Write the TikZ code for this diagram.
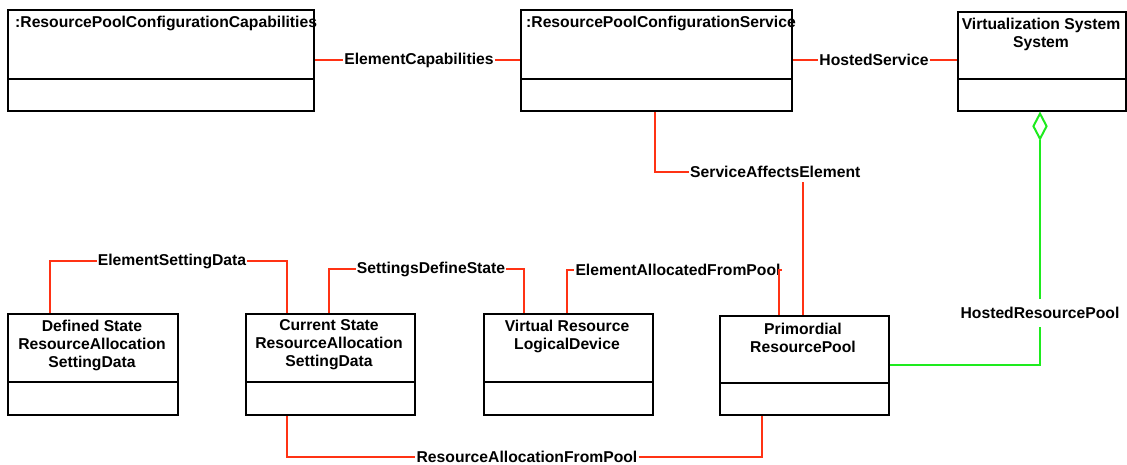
\documentclass[tikz,border=0pt]{standalone}
\usepackage{fontspec}
\setmainfont{Liberation Sans}
\usetikzlibrary{shapes.geometric}
\definecolor{assocred}{RGB}{255,50,20}
\definecolor{aggrgreen}{RGB}{30,235,30}
\begin{document}
\begin{tikzpicture}[x=1pt,y=-1pt,
  txt/.style={font=\fontsize{15.7}{18}\selectfont\bfseries, inner sep=0pt, align=center},
  cls/.style={draw=black, line width=2.2pt, fill=white, rectangle, inner sep=0pt, anchor=north west},
  divider/.style={draw=black, line width=2.2pt},
  lbl/.style={txt, inner xsep=1pt, inner ysep=4pt},
  rline/.style={draw=assocred, line width=2pt},
  gline/.style={draw=aggrgreen, line width=2pt}]
\useasboundingbox[fill=white] (0,0) rectangle (1127,464);

% class boxes
\node[cls, minimum width=306pt, minimum height=101pt] (rpcc) at (7,9) {};
\node[cls, minimum width=271pt, minimum height=101pt] (rpcs) at (520,9) {};
\node[cls, minimum width=168pt, minimum height=99pt]  (vss)  at (957,11) {};
\node[cls, minimum width=170pt, minimum height=101pt] (def)  at (7,313) {};
\node[cls, minimum width=169pt, minimum height=101pt] (cur)  at (245,313) {};
\node[cls, minimum width=169pt, minimum height=101pt] (virt) at (483,313) {};
\node[cls, minimum width=169pt, minimum height=99pt]  (prim) at (719,315) {};

% compartment dividers, measured up from the bottom edge
\foreach \b/\d in {rpcc/33, rpcs/33, vss/33, def/34, cur/34, virt/34, prim/33}
  \draw[divider] ([yshift=\d pt]\b.south west) -- ([yshift=\d pt]\b.south east);

% class names
\node[txt, anchor=west] (rpcc-t) at (15,23) {:ResourcePoolConfigurationCapabilities};
\node[txt, anchor=west] (rpcs-t) at (526,23) {:ResourcePoolConfigurationService};
\node[txt] (vss-t)  at (1041,34)  {Virtualization System\\System};
\node[txt] (def-t)  at (92,345)   {Defined State\\ResourceAllocation\\SettingData};
\node[txt] (cur-t)  at (329,345)  {Current State\\ResourceAllocation\\SettingData};
\node[txt] (virt-t) at (567,336)  {Virtual Resource\\LogicalDevice};
\node[txt] (prim-t) at (803,338)  {Primordial\\ResourcePool};

% association labels
\node[lbl] (ec)   at (419,60)  {ElementCapabilities};
\node[lbl] (hs)   at (874,60)  {HostedService};
\node[lbl, anchor=west] (sae) at (689,172) {ServiceAffectsElement};
\node[lbl] (esd)  at (172,261) {ElementSettingData};
\node[lbl] (sds)  at (431,269) {SettingsDefineState};
\node[lbl] (eafp) at (678,270) {ElementAllocatedFromPool};
\node[lbl] (rafp) at (527,457) {ResourceAllocationFromPool};
\node[lbl, inner ysep=8pt] (hrp) at (1040,313) {HostedResourcePool};

% connector end points on the boxes
\coordinate (sae-a)  at ([xshift=135pt]rpcs.south west);
\coordinate (sae-b)  at ([xshift=84pt]prim.north west);
\coordinate (esd-a)  at ([xshift=43pt]def.north west);
\coordinate (esd-b)  at ([xshift=42pt]cur.north west);
\coordinate (sds-a)  at ([xshift=84pt]cur.north west);
\coordinate (sds-b)  at ([xshift=41pt]virt.north west);
\coordinate (eafp-a) at ([xshift=84pt]virt.north west);
\coordinate (eafp-b) at ([xshift=60pt]prim.north west);
\coordinate (rafp-a) at ([xshift=42pt]cur.south west);
\coordinate (rafp-b) at ([xshift=43pt]prim.south west);
\coordinate (hrp-a)  at ([yshift=-50pt]prim.north east);

% associations
\draw[rline] (rpcc.east |- ec) -- (ec.west);
\draw[rline] (ec.east) -- (rpcs.west |- ec);
\draw[rline] (rpcs.east |- hs) -- (hs.west);
\draw[rline] (hs.east) -- (vss.west |- hs);
\draw[rline] (sae-a) |- (sae.west);
\draw[rline] (sae-b) -- (sae-b |- sae.south);
\draw[rline] (esd-a) |- (esd.west);
\draw[rline] (esd.east) -| (esd-b);
\draw[rline] (sds-a) |- (sds.west);
\draw[rline] (sds.east) -| (sds-b);
\draw[rline] (eafp-a) |- (eafp.west);
\draw[rline] (eafp.east) -| (eafp-b);
\draw[rline] (rafp-a) |- (rafp.west);
\draw[rline] (rafp.east) -| (rafp-b);

% aggregation
\node[diamond, draw=aggrgreen, line width=2pt, fill=white, inner sep=0pt,
      minimum width=14pt, minimum height=26pt, anchor=north] (agg) at ([xshift=83pt]vss.south west) {};
\draw[gline] (agg.south) -- (hrp.north);
\draw[gline] (hrp-a) -| (hrp.south);
\end{tikzpicture}
\end{document}
